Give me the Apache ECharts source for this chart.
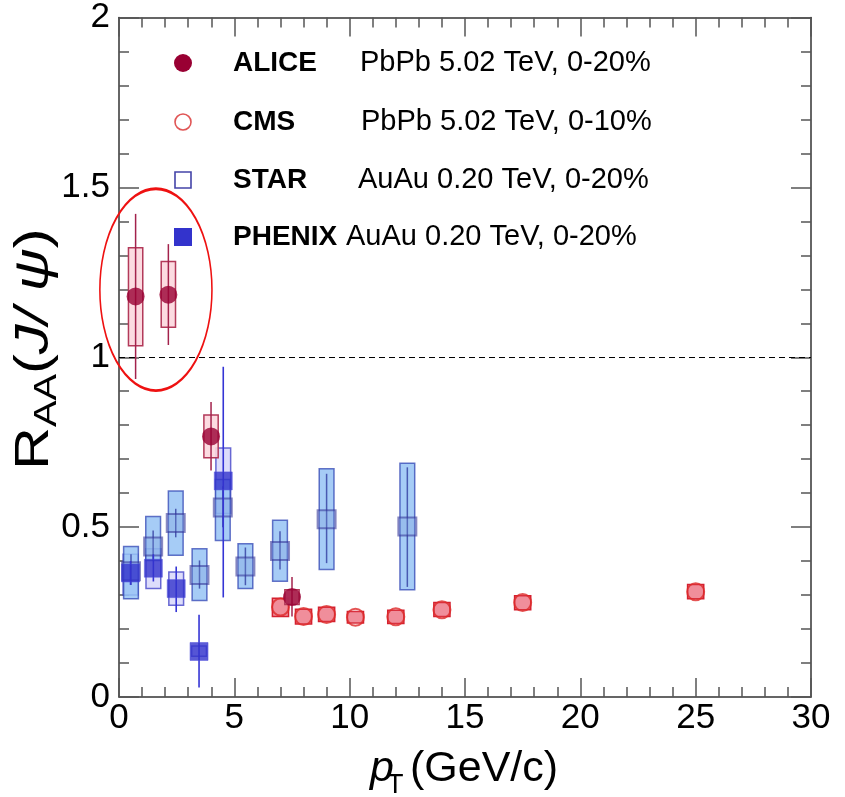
<!DOCTYPE html>
<html>
<head>
<meta charset="utf-8">
<script src="https://cdn.jsdelivr.net/npm/echarts@6/dist/echarts.min.js"></script>
<style>html,body{margin:0;padding:0;background:#fff}#c{width:845px;height:797px}</style>
</head>
<body>
<div id="c"></div>
<script>
// ---------------- DATA ----------------
const xTicks = [0, 5, 10, 15, 20, 25, 30];
const yTicks = [0, 0.5, 1, 1.5, 2];

const aliceX      = [0.72, 2.14, 3.99, 7.5];
const aliceY      = [1.179, 1.184, 0.767, 0.294];
const aliceStatLo = [0.936, 1.036, 0.667, 0.237];
const aliceStatHi = [1.422, 1.333, 0.868, 0.353];
const aliceSysLo  = [1.034, 1.088, 0.704, 0.272];
const aliceSysHi  = [1.322, 1.282, 0.830, 0.316];

const cmsX     = [7, 8, 9, 10.25, 12, 14, 17.5, 25];
const cmsY     = [0.265, 0.237, 0.243, 0.235, 0.236, 0.257, 0.278, 0.310];
const cmsSysLo = [0.237, 0.215, 0.222, 0.218, 0.216, 0.237, 0.257, 0.289];
const cmsSysHi = [0.291, 0.258, 0.264, 0.252, 0.255, 0.278, 0.298, 0.331];

const starX      = [0.52, 1.48, 2.46, 3.49, 4.50, 5.48, 6.98, 9.0, 12.5];
const starY      = [0.370, 0.443, 0.512, 0.359, 0.558, 0.384, 0.430, 0.523, 0.502];
const starStatLo = [0.330, 0.400, 0.470, 0.319, 0.500, 0.329, 0.375, 0.394, 0.324];
const starStatHi = [0.420, 0.490, 0.554, 0.402, 0.620, 0.440, 0.488, 0.657, 0.676];
const starSysLo  = [0.289, 0.402, 0.417, 0.284, 0.461, 0.319, 0.341, 0.375, 0.316];
const starSysHi  = [0.443, 0.531, 0.606, 0.436, 0.640, 0.451, 0.520, 0.672, 0.688];

const phenixX      = [0.50, 1.49, 2.48, 3.47, 4.52];
const phenixY      = [0.365, 0.379, 0.319, 0.134, 0.636];
const phenixStatLo = [0.330, 0.340, 0.250, 0.028, 0.293];
const phenixStatHi = [0.400, 0.420, 0.384, 0.242, 0.972];
const phenixSysLo  = [0.300, 0.319, 0.270, 0.120, 0.540];
const phenixSysHi  = [0.420, 0.436, 0.368, 0.150, 0.733];

const legendNames = ['ALICE', 'CMS', 'STAR', 'PHENIX'];
const legendDescs = ['PbPb 5.02 TeV, 0-20%', 'PbPb 5.02 TeV, 0-10%', 'AuAu 0.20 TeV, 0-20%', 'AuAu 0.20 TeV, 0-20%'];

const ellipseCenter = [1.60, 1.199];
const ellipseRadii  = [2.43, 0.297];

// ---------------- HELPERS ----------------
const FONT = 'Liberation Sans, Arial, Helvetica, sans-serif';

function boxSeries(xs, lo, hi, halfW, fill, stroke, z) {
  return {
    type: 'custom', silent: true, z: z, xAxisIndex: 0, yAxisIndex: 0,
    data: xs.map((x, i) => [x, lo[i], hi[i]]),
    encode: { x: 0, y: [1, 2] },
    renderItem: function (params, api) {
      const p1 = api.coord([api.value(0) - halfW, api.value(2)]);
      const p2 = api.coord([api.value(0) + halfW, api.value(1)]);
      return { type: 'rect', shape: { x: p1[0], y: p1[1], width: p2[0] - p1[0], height: p2[1] - p1[1] },
        style: { fill: fill, stroke: stroke, lineWidth: 1.5 } };
    }
  };
}
function errSeries(xs, lo, hi, color, width, z) {
  return {
    type: 'custom', silent: true, z: z, xAxisIndex: 0, yAxisIndex: 0,
    data: xs.map((x, i) => [x, lo[i], hi[i]]),
    encode: { x: 0, y: [1, 2] },
    renderItem: function (params, api) {
      const p1 = api.coord([api.value(0), api.value(2)]);
      const p2 = api.coord([api.value(0), api.value(1)]);
      return { type: 'line', shape: { x1: p1[0], y1: p1[1], x2: p2[0], y2: p2[1] },
        style: { stroke: color, lineWidth: width } };
    }
  };
}
function pts(xs, ys) { return xs.map((x, i) => [x, ys[i]]); }

const axisLineStyle = { color: '#333', width: 1.5 };
const tickStyle = { color: '#555', width: 1.5 };

function xAx(pos, showLabel) {
  return {
    type: 'value', min: xTicks[0], max: xTicks[xTicks.length - 1], interval: 5, position: pos,
    axisLine: { show: true, onZero: false, lineStyle: axisLineStyle },
    axisTick: { show: true, inside: true, length: 19, lineStyle: tickStyle },
    minorTick: { show: true, splitNumber: 5, length: 10, lineStyle: tickStyle },
    splitLine: { show: false },
    axisLabel: { show: showLabel, fontSize: 35, color: '#000', fontFamily: FONT, margin: 4, showMinLabel: true, showMaxLabel: true }
  };
}
function yAx(pos, showLabel) {
  return {
    type: 'value', min: yTicks[0], max: yTicks[yTicks.length - 1], interval: 0.5, position: pos,
    axisLine: { show: true, onZero: false, lineStyle: axisLineStyle },
    axisTick: { show: true, inside: true, length: 20, lineStyle: tickStyle },
    minorTick: { show: true, splitNumber: 5, length: 10, lineStyle: tickStyle },
    splitLine: { show: false },
    axisLabel: { show: showLabel, fontSize: 35, color: '#000', fontFamily: FONT, margin: 9, showMinLabel: true, showMaxLabel: true }
  };
}

const chart = echarts.init(document.getElementById('c'), null, { renderer: 'canvas' });

const series = [
  boxSeries(phenixX, phenixSysLo, phenixSysHi, 0.32, 'rgba(215,215,250,0.85)', 'rgba(70,70,200,0.8)', 2),
  boxSeries(starX, starSysLo, starSysHi, 0.32, 'rgba(150,195,245,0.85)', 'rgba(50,70,180,0.75)', 3),
  errSeries(starX, starStatLo, starStatHi, 'rgba(50,60,160,0.8)', 1.5, 4),
  {
    type: 'scatter', z: 5, silent: true, symbol: 'rect', symbolSize: 18, data: pts(starX, starY),
    itemStyle: { color: 'rgba(120,150,215,0.35)', borderColor: 'rgba(50,50,150,0.7)', borderWidth: 2 }
  },
  errSeries(phenixX, phenixStatLo, phenixStatHi, '#3535d5', 1.6, 6),
  {
    type: 'scatter', z: 7, silent: true, symbol: 'rect', symbolSize: 18, data: pts(phenixX, phenixY),
    itemStyle: { color: '#3333cc', borderColor: 'rgba(80,80,220,0.6)', borderWidth: 1 }
  },
  boxSeries(cmsX, cmsSysLo, cmsSysHi, 0.35, 'rgba(238,130,145,0.9)', '#d42030', 8),
  {
    type: 'scatter', z: 9, silent: true, symbol: 'circle', symbolSize: 17, data: pts(cmsX, cmsY),
    itemStyle: { color: 'rgba(240,140,150,0.2)', borderColor: '#dd2a2a', borderWidth: 2 }
  },
  boxSeries(aliceX, aliceSysLo, aliceSysHi, 0.31, 'rgba(252,215,222,0.9)', '#b33a5a', 10),
  errSeries(aliceX, aliceStatLo, aliceStatHi, '#a3224c', 1.5, 11),
  {
    type: 'scatter', z: 12, silent: true, symbol: 'circle', symbolSize: 18, data: pts(aliceX, aliceY),
    itemStyle: { color: '#990033' },
    markLine: {
      silent: true, symbol: 'none', label: { show: false },
      lineStyle: { color: '#000', type: [6, 4], width: 1 },
      data: [{ yAxis: 1 }]
    }
  }
];

const legendRowsY = [63, 122, 180, 237];
const legendDescX = [360, 361, 358, 346];
const graphics = [];
graphics.push({ type: 'circle', shape: { cx: 183, cy: legendRowsY[0], r: 9 }, style: { fill: '#990033' } });
graphics.push({ type: 'circle', shape: { cx: 183, cy: legendRowsY[1], r: 8 }, style: { fill: '#fff', stroke: '#e05555', lineWidth: 1.6 } });
graphics.push({ type: 'rect', shape: { x: 175, y: legendRowsY[2] - 8, width: 16, height: 16 }, style: { fill: '#fff', stroke: '#4444a8', lineWidth: 1.6 } });
graphics.push({ type: 'rect', shape: { x: 174, y: legendRowsY[3] - 9, width: 18, height: 18 }, style: { fill: '#3333cc' } });
legendNames.forEach((n, i) => {
  graphics.push({ type: 'text', x: 233, y: legendRowsY[i], style: { text: n, font: 'bold 28px ' + FONT, fill: '#000', verticalAlign: 'middle' } });
  graphics.push({ type: 'text', x: legendDescX[i], y: legendRowsY[i], style: { text: legendDescs[i], font: '29px ' + FONT, fill: '#000', verticalAlign: 'middle' } });
});
// x-axis title: p_T (GeV/c)
graphics.push({ type: 'text', x: 370, y: 791, style: { text: 'p', font: 'italic 43px ' + FONT, fill: '#000', verticalAlign: 'bottom' } });
graphics.push({ type: 'text', x: 387, y: 799, style: { text: 'T', font: '27px ' + FONT, fill: '#000', verticalAlign: 'bottom' } });
graphics.push({ type: 'text', x: 410, y: 791, style: { text: '(GeV/c)', font: '43px ' + FONT, fill: '#000', verticalAlign: 'bottom' } });
// y-axis title
graphics.push({
  type: 'text', x: 63, y: 470, rotation: Math.PI / 2, scaleX: 1.24,
  style: {
    text: '{r|R}{s|AA}{n|(}{i|J/ ψ}{n|)}', verticalAlign: 'bottom',
    rich: {
      r: { font: '48px ' + FONT, fill: '#000' },
      s: { font: '32px ' + FONT, fill: '#000', padding: [24, 0, 0, 0] },
      n: { font: '48px ' + FONT, fill: '#000' },
      i: { font: 'italic 48px ' + FONT, fill: '#000' }
    }
  }
});

chart.setOption({
  animation: false,
  backgroundColor: '#fff',
  grid: { left: 119, right: 34, top: 17, bottom: 100, containLabel: false },
  xAxis: [xAx('bottom', true), xAx('top', false)],
  yAxis: [yAx('left', true), yAx('right', false)],
  series: series,
  graphic: graphics
});

const c = chart.convertToPixel({ gridIndex: 0 }, ellipseCenter);
const e = chart.convertToPixel({ gridIndex: 0 }, [ellipseCenter[0] + ellipseRadii[0], ellipseCenter[1] + ellipseRadii[1]]);
const rx = e[0] - c[0], ry = c[1] - e[1];
graphics.push({
  type: 'circle', x: c[0], y: c[1], scaleX: rx / ry, scaleY: 1, z: 50,
  shape: { cx: 0, cy: 0, r: ry },
  style: { fill: 'none', stroke: '#ee1111', lineWidth: 2.8, strokeNoScale: true }
});
chart.setOption({ graphic: graphics });
</script>
</body>
</html>
